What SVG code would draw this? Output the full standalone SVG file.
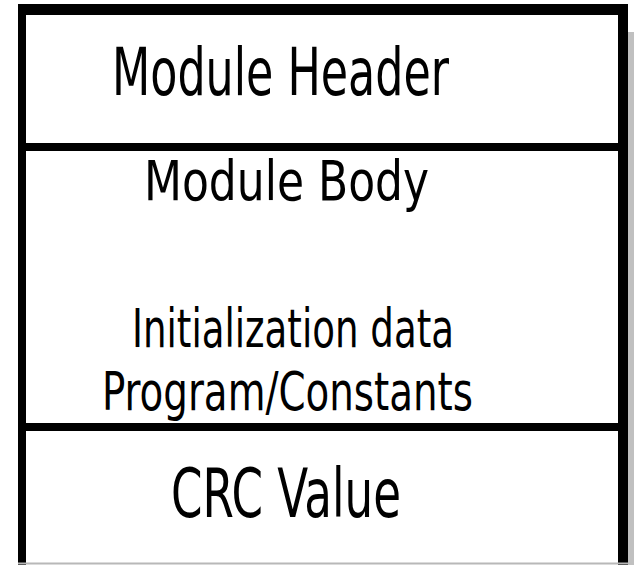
<svg xmlns="http://www.w3.org/2000/svg" width="634" height="565" viewBox="0 0 634 565">
  <style>
    .frame { fill: none; stroke: #000; stroke-linecap: butt; }
    .lbl { font-family: "Liberation Sans Narrow", "DejaVu Sans Condensed", "Liberation Sans", sans-serif; fill: #000; }
  </style>
  <rect x="0" y="0" width="634" height="565" fill="#fff"/>
  <rect x="628" y="32" width="6" height="533" fill="#c0c0c0"/>
  <g id="frame">
    <line class="frame" x1="22" y1="4" x2="22" y2="565" stroke-width="8"/>
    <line class="frame" x1="623" y1="4" x2="623" y2="565" stroke-width="10"/>
    <line class="frame" x1="18" y1="9.5" x2="628" y2="9.5" stroke-width="11"/>
    <line x1="18" y1="563.5" x2="628" y2="563.5" stroke="#b8b8b8" stroke-width="2"/>
  </g>
  <g id="header">
    <text class="lbl" x="112" y="95" font-size="66" textLength="337" lengthAdjust="spacingAndGlyphs">Module Header</text>
  </g>
  <g id="body">
    <line class="frame" x1="22" y1="147" x2="623" y2="147" stroke-width="8"/>
    <text class="lbl" x="144" y="200" font-size="56" textLength="285" lengthAdjust="spacingAndGlyphs">Module Body</text>
    <text class="lbl" x="132" y="347" font-size="54" textLength="322" lengthAdjust="spacingAndGlyphs">Initialization data</text>
    <text class="lbl" x="102" y="410" font-size="53" textLength="371" lengthAdjust="spacingAndGlyphs">Program/Constants</text>
  </g>
  <g id="crc">
    <line class="frame" x1="22" y1="427" x2="623" y2="427" stroke-width="8"/>
    <text class="lbl" x="171" y="517" font-size="68" textLength="230" lengthAdjust="spacingAndGlyphs">CRC Value</text>
  </g>
</svg>
